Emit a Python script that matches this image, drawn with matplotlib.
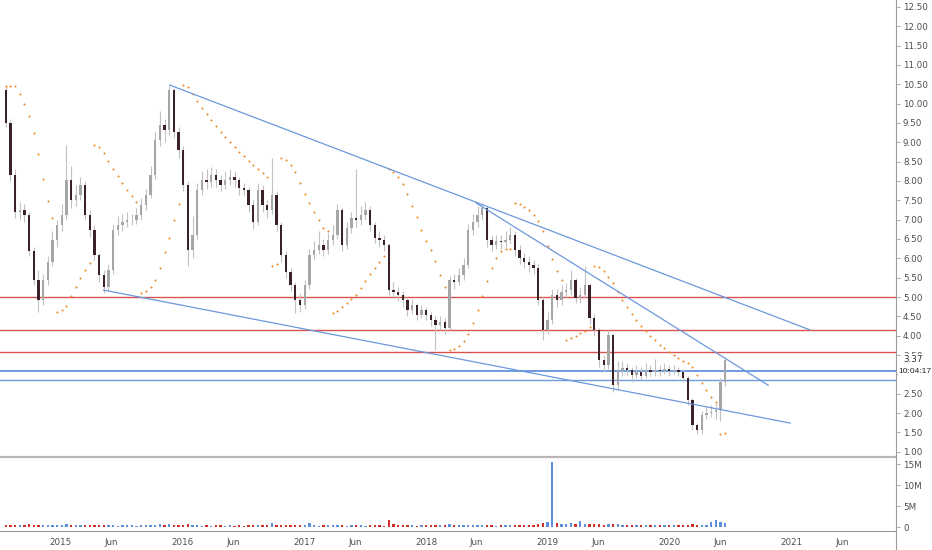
import matplotlib
matplotlib.use("Agg")
import matplotlib.pyplot as plt
import matplotlib.dates as mdates
from matplotlib.lines import Line2D
import numpy as np
import pandas as pd

# --- bi-weekly OHLC (open = previous close) ---
first_open = 10.35
last_date = "2020-06-15"

closes = [
    9.50, 8.16, 7.20, 7.25, 7.12, 6.20, 5.44, 4.92, 5.44, 5.90,
    6.47, 6.86, 7.12, 8.03, 7.51, 7.64, 7.90, 7.12, 6.73, 6.08,
    5.57, 5.26, 5.70, 6.73, 6.86, 6.93, 6.99, 6.99, 7.12, 7.38,
    7.64, 8.16, 9.06, 9.45, 9.32, 10.35, 9.27, 8.80, 7.90, 6.22,
    6.60, 7.77, 8.03, 7.97, 8.16, 8.03, 7.90, 8.03, 8.10, 8.03,
    7.82, 7.77, 7.38, 6.93, 7.77, 7.38, 7.25, 7.64, 6.86, 6.08,
    5.65, 5.30, 4.92, 4.79, 5.31, 6.08, 6.22, 6.35, 6.22, 6.47,
    6.60, 7.25, 6.35, 6.78, 7.04, 6.99, 7.12, 7.25, 6.86, 6.52,
    6.47, 6.35, 5.18, 5.13, 5.05, 4.92, 4.66, 4.79, 4.53, 4.66,
    4.53, 4.41, 4.28, 4.35, 4.20, 5.44, 5.39, 5.57, 5.83, 6.73,
    6.93, 7.12, 7.30, 6.47, 6.35, 6.44, 6.41, 6.47, 6.60, 6.22,
    6.01, 5.91, 5.83, 5.75, 4.92, 4.15, 4.41, 5.05, 4.92, 5.13,
    5.18, 5.44, 4.97, 5.05, 5.31, 4.46, 4.15, 3.37, 3.24, 4.02,
    2.72, 3.11, 3.16, 3.11, 2.98, 3.06, 2.96, 3.11, 3.06, 3.11,
    3.08, 3.14, 3.08, 3.11, 3.06, 2.90, 2.34, 1.69, 1.56, 1.95,
    2.00, 2.03, 2.08, 2.80, 3.37,
]
highs = [
    10.45, 9.60, 8.30, 7.45, 7.40, 7.20, 6.30, 5.70, 5.60, 6.05,
    6.70, 7.00, 7.40, 8.93, 8.40, 7.90, 8.10, 8.00, 7.25, 6.85,
    6.15, 5.70, 5.85, 6.90, 7.10, 7.15, 7.20, 7.15, 7.30, 7.55,
    7.80, 8.40, 9.30, 9.80, 9.60, 10.48, 10.40, 9.40, 8.90, 8.00,
    7.10, 7.95, 8.25, 8.30, 8.35, 8.30, 8.15, 8.25, 8.30, 8.25,
    8.10, 7.95, 7.85, 7.50, 7.95, 7.90, 7.50, 8.60, 7.75, 6.95,
    6.20, 5.75, 5.40, 5.10, 5.45, 6.25, 6.45, 6.70, 6.50, 6.65,
    6.85, 7.40, 7.30, 6.95, 7.20, 8.30, 7.35, 7.45, 7.35, 6.95,
    6.70, 6.60, 6.40, 5.40, 5.25, 5.15, 5.00, 4.95, 4.85, 4.80,
    4.75, 4.60, 4.50, 4.50, 4.45, 5.55, 5.60, 5.75, 6.00, 6.90,
    7.15, 7.35, 7.43, 7.35, 6.60, 6.60, 6.60, 6.70, 6.80, 6.70,
    6.35, 6.15, 6.05, 5.95, 5.85, 5.00, 4.60, 5.20, 5.20, 5.30,
    5.35, 5.70, 5.50, 5.25, 5.80, 5.35, 4.55, 4.20, 3.50, 4.15,
    4.05, 3.35, 3.35, 3.30, 3.20, 3.25, 3.20, 3.30, 3.25, 3.40,
    3.25, 3.30, 3.25, 3.25, 3.20, 3.15, 2.95, 2.40, 1.75, 2.05,
    2.15, 2.20, 2.25, 2.90, 3.42,
]
lows = [
    9.40, 8.00, 7.05, 7.00, 6.95, 6.05, 5.30, 4.62, 4.80, 5.30,
    5.80, 6.30, 6.70, 7.00, 7.30, 7.35, 7.50, 7.00, 6.55, 5.95,
    5.40, 5.10, 5.15, 5.60, 6.60, 6.70, 6.80, 6.85, 6.90, 7.00,
    7.25, 7.55, 8.05, 8.90, 9.00, 9.20, 9.10, 8.60, 7.75, 5.80,
    6.00, 6.50, 7.65, 7.80, 7.85, 7.85, 7.75, 7.80, 7.90, 7.85,
    7.65, 7.60, 7.20, 6.75, 6.85, 7.20, 7.05, 7.15, 6.70, 5.90,
    5.50, 5.15, 4.58, 4.60, 4.70, 5.20, 5.95, 6.10, 6.05, 6.10,
    6.35, 6.50, 6.20, 6.25, 6.65, 6.80, 6.85, 7.00, 6.70, 6.40,
    6.30, 6.20, 5.05, 5.00, 4.90, 4.75, 4.50, 4.55, 4.40, 4.45,
    4.40, 4.25, 3.63, 4.15, 4.05, 4.15, 5.20, 5.30, 5.45, 5.75,
    6.60, 6.80, 7.00, 6.30, 6.20, 6.25, 6.25, 6.30, 6.40, 6.05,
    5.85, 5.75, 5.65, 5.60, 4.80, 3.90, 4.05, 4.30, 4.75, 4.80,
    5.00, 5.05, 4.85, 4.85, 5.00, 4.30, 4.00, 3.20, 3.05, 3.15,
    2.55, 2.60, 2.95, 2.95, 2.80, 2.90, 2.85, 2.90, 2.95, 2.95,
    2.95, 3.00, 2.95, 3.00, 2.95, 2.80, 2.20, 1.55, 1.45, 1.45,
    1.85, 1.90, 1.85, 1.80, 2.70,
]
# volume in millions
volumes = [
    0.45, 0.50, 0.40, 0.55, 0.45, 0.60, 0.50, 0.55, 0.45, 0.40,
    0.50, 0.45, 0.55, 0.60, 0.50, 0.45, 0.40, 0.50, 0.45, 0.40,
    0.45, 0.50, 0.40, 0.45, 0.35, 0.40, 0.45, 0.40, 0.35, 0.45,
    0.40, 0.50, 0.55, 0.60, 0.45, 0.70, 0.50, 0.45, 0.40, 0.60,
    0.45, 0.40, 0.35, 0.40, 0.35, 0.40, 0.45, 0.35, 0.40, 0.35,
    0.40, 0.35, 0.45, 0.50, 0.40, 0.45, 0.40, 0.90, 0.45, 0.40,
    0.45, 0.40, 0.50, 0.45, 0.40, 0.85, 0.40, 0.35, 0.40, 0.45,
    0.40, 0.45, 0.40, 0.35, 0.40, 0.45, 0.40, 0.35, 0.40, 0.45,
    0.40, 0.35, 1.70, 0.60, 0.45, 0.40, 0.45, 0.40, 0.35, 0.40,
    0.45, 0.40, 0.55, 0.40, 0.45, 0.60, 0.40, 0.45, 0.40, 0.55,
    0.45, 0.40, 0.50, 0.45, 0.40, 0.35, 0.40, 0.45, 0.40, 0.50,
    0.45, 0.40, 0.50, 0.45, 0.60, 0.90, 1.20, 15.50, 1.00, 0.80,
    0.70, 0.90, 0.80, 1.40, 0.60, 0.70, 0.80, 0.60, 0.55, 0.70,
    0.60, 0.65, 0.55, 0.50, 0.45, 0.50, 0.45, 0.50, 0.45, 0.40,
    0.45, 0.50, 0.45, 0.40, 0.45, 0.50, 0.55, 0.60, 0.50, 0.45,
    0.50, 1.30, 1.60, 1.20, 1.00,
]

# horizontal levels and trend lines drawn on the chart
red_levels = [5.00, 4.15, 3.58]
blue_levels = [3.09, 2.85]
trend_start_dates = ["2015-11-25", "2018-05-31", "2015-05-10"]
trend_start_prices = [10.48, 7.43, 5.18]
trend_end_dates = ["2021-02-24", "2020-10-22", "2020-12-27"]
trend_end_prices = [4.15, 2.72, 1.74]

last_price = "3.37"
countdown = "10:04:17"

price_ticks = np.arange(1.0, 12.51, 0.5)
vol_ticks = [0, 5, 10, 15]
vol_tick_labels = ["0", "5M", "10M", "15M"]
time_ticks = ["2015-01-01", "2015-06-01", "2016-01-01", "2016-06-01", "2017-01-01",
              "2017-06-01", "2018-01-01", "2018-06-01", "2019-01-01", "2019-06-01",
              "2020-01-01", "2020-06-01", "2021-01-01", "2021-06-01"]
time_labels = ["2015", "Jun", "2016", "Jun", "2017", "Jun", "2018", "Jun",
               "2019", "Jun", "2020", "Jun", "2021", "Jun"]


def parabolic_sar(high, low, step=0.02, max_af=0.2):
    n = len(high)
    sar = np.zeros(n)
    bull = False
    af = step
    ep = low[0]
    sar[0] = high[0]
    for i in range(1, n):
        s = sar[i - 1] + af * (ep - sar[i - 1])
        if bull:
            s = min(s, low[i - 1], low[max(i - 2, 0)])
            if low[i] < s:
                bull, s, ep, af = False, ep, low[i], step
            elif high[i] > ep:
                ep, af = high[i], min(af + step, max_af)
        else:
            s = max(s, high[i - 1], high[max(i - 2, 0)])
            if high[i] > s:
                bull, s, ep, af = True, ep, high[i], step
            elif low[i] < ep:
                ep, af = low[i], min(af + step, max_af)
        sar[i] = s
    return sar


c = np.array(closes)
o = np.concatenate([[first_open], c[:-1]])
h = np.array(highs)
l = np.array(lows)
dates = pd.date_range(end=last_date, periods=len(c), freq="14D")
x = mdates.date2num(dates)
up = c >= o
sar = parabolic_sar(h, l)

W, H = 932, 550
fig = plt.figure(figsize=(W / 100, H / 100), dpi=100)
right = 896 / W
ax = fig.add_axes([0, 1 - 457 / H, right, 457 / H])
axv = fig.add_axes([0, 1 - 531 / H, right, (531 - 459) / H], sharex=ax)

text_col = "#4d4d4d"
axis_col = "#9a9a9a"

# candles
ax.vlines(x, l, h, color="#c2c2c2", linewidth=0.8, zorder=2)
body_w = 7
ax.bar(x[up], (c - o)[up], bottom=o[up], width=body_w, color="#a6a6a6", zorder=3, linewidth=0)
ax.bar(x[~up], (c - o)[~up], bottom=o[~up], width=body_w, color="#3b2228", zorder=3, linewidth=0)

# parabolic SAR
ax.scatter(x, sar, s=2.2, color="#f08a24", linewidths=0, zorder=4)

# levels
for lv in red_levels:
    ax.axhline(lv, color="#d9534f", linewidth=1.0, zorder=1)
for lv, lw in zip(blue_levels, [1.4, 1.0]):
    ax.axhline(lv, color="#6f9be0", linewidth=lw, zorder=1)

# trend lines
for d0, p0, d1, p1 in zip(trend_start_dates, trend_start_prices, trend_end_dates, trend_end_prices):
    ax.plot(mdates.datestr2num([d0, d1]), [p0, p1], color="#6b98dc", linewidth=0.9, zorder=5)

ax.set_ylim(0.863, 12.68)
ax.set_xlim(mdates.datestr2num("2014-07-04"), mdates.datestr2num("2021-11-09"))
ax.yaxis.tick_right()
ax.set_yticks(price_ticks)
# the 3.00 label sits under the countdown box on the original
ax.set_yticklabels(["" if abs(t - 3.0) < 1e-9 else f"{t:.2f}" for t in price_ticks])
ax.tick_params(axis="y", direction="out", length=3, width=0.6, color=axis_col,
               labelsize=6.3, labelcolor=text_col, pad=2)
ax.tick_params(axis="x", bottom=False, labelbottom=False)
for s in ["top", "left", "right"]:
    ax.spines[s].set_visible(False)
ax.spines["bottom"].set_color("#b8b8b8")
ax.spines["bottom"].set_linewidth(1.6)

# last price / countdown labels
ax.text(1.008, 3.38, last_price, transform=ax.get_yaxis_transform(), fontsize=6.3,
        color="#333333", va="center", ha="left",
        bbox=dict(facecolor="white", edgecolor="none", pad=0.6), zorder=10)
ax.text(1.003, 3.08, countdown, transform=ax.get_yaxis_transform(), fontsize=6.0,
        family="Liberation Sans", color="#222222", va="center", ha="left",
        bbox=dict(facecolor="white", edgecolor="none", pad=0.3), zorder=10)

# volume
vcol = np.where(up, "#5b8fdc", "#d0302c")
axv.bar(x, volumes, width=body_w, color=vcol, linewidth=0)
axv.set_ylim(-0.95, 16.2)
axv.yaxis.tick_right()
axv.set_yticks(vol_ticks)
axv.set_yticklabels(vol_tick_labels)
axv.tick_params(axis="y", direction="out", length=3, width=0.6, color=axis_col,
                labelsize=6.3, labelcolor=text_col, pad=2)
axv.set_xticks(mdates.datestr2num(time_ticks))
axv.set_xticklabels(time_labels)
axv.tick_params(axis="x", length=0, labelsize=6.3, labelcolor=text_col, pad=5)
for s in ["top", "left", "right"]:
    axv.spines[s].set_visible(False)
axv.spines["bottom"].set_color(axis_col)
axv.spines["bottom"].set_linewidth(0.8)

# price scale border running down the whole height
fig.add_artist(Line2D([right, right], [0, 1], color=axis_col, linewidth=0.8))

fig.savefig("out.png", dpi=100)
